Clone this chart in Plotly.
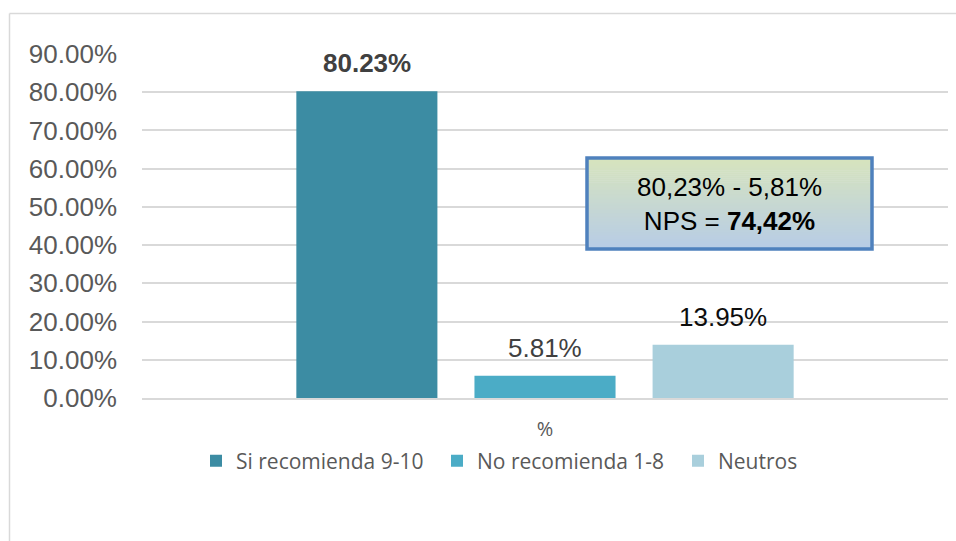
import plotly.graph_objects as go

# ---- data ----
categories = ["%"]
series_names = ["Si recomienda 9-10", "No recomienda 1-8", "Neutros"]
series_values = [0.8023, 0.0581, 0.1395]
series_colors = ["#3C8CA3", "#4BACC6", "#A9CFDC"]
label_colors = ["#404040", "#404040", "#0D0D0D"]
label_bold = [True, False, False]
nps_lines = ["80,23% - 5,81%", "NPS = ", "74,42%"]
y_ticks = [0, 0.1, 0.2, 0.3, 0.4, 0.5, 0.6, 0.7, 0.8, 0.9]

# ---- layout geometry (pixels) ----
W, H = 956, 541
ML, MR, MT, MB = 142, 8, 54, 143
PW, PH = W - ML - MR, H - MT - MB
BARGAP, BARGROUPGAP = 0.337, 0.208


def px_x(x):
    return (x - ML) / PW


def px_y(y):
    return (H - MB - y) / PH


fig = go.Figure()
for name, val, col in zip(series_names, series_values, series_colors):
    fig.add_trace(go.Bar(x=categories, y=[val], name=name, marker_color=col,
                         marker_line_width=0))

slot = PW * (1 - BARGAP) / len(series_values)
annotations = []
for i, (val, c, b) in enumerate(zip(series_values, label_colors, label_bold)):
    txt = f"{val*100:.2f}%"
    if b:
        txt = f"<b>{txt}</b>"
    annotations.append(dict(x=categories[0], y=val, xref="x", yref="y", text=txt,
                            showarrow=False, yanchor="bottom", xanchor="center",
                            xshift=(i - 1) * slot, yshift=11,
                            font=dict(family="Liberation Sans, Arial", size=26, color=c)))

shapes = []
# outer chart border (left and top)
shapes.append(dict(type="line", xref="paper", yref="paper", x0=px_x(9.5), x1=px_x(W + 5),
                   y0=px_y(13.5), y1=px_y(13.5), line=dict(color="#D9D9D9", width=1.5)))
shapes.append(dict(type="line", xref="paper", yref="paper", x0=px_x(9.5), x1=px_x(9.5),
                   y0=px_y(13.5), y1=px_y(H + 5), line=dict(color="#D9D9D9", width=1.5)))

# NPS text box with vertical gradient
bx0, bx1, by0, by1 = 587, 872, 158, 249
top_c = (215, 228, 189)
bot_c = (183, 204, 230)
n = 45
for k in range(n):
    t = (k + 0.5) / n
    col = tuple(round(top_c[j] + (bot_c[j] - top_c[j]) * t) for j in range(3))
    ya = by0 + (by1 - by0) * k / n
    yb = by0 + (by1 - by0) * (k + 1) / n + 0.6
    shapes.append(dict(type="rect", xref="paper", yref="paper", x0=px_x(bx0), x1=px_x(bx1),
                       y0=px_y(ya), y1=px_y(min(yb, by1)), line=dict(width=0),
                       fillcolor="rgb(%d,%d,%d)" % col, layer="above"))
shapes.append(dict(type="rect", xref="paper", yref="paper", x0=px_x(bx0), x1=px_x(bx1),
                   y0=px_y(by0), y1=px_y(by1), line=dict(color="#4F81BD", width=3.5),
                   fillcolor="rgba(0,0,0,0)", layer="above"))

annotations.append(dict(x=px_x((bx0 + bx1) / 2), y=px_y((by0 + by1) / 2), xref="paper", yref="paper",
                        text=f"{nps_lines[0]}<br>{nps_lines[1]}<b>{nps_lines[2]}</b>",
                        showarrow=False, xanchor="center", yanchor="middle", align="center",
                        font=dict(family="Liberation Sans, Arial", size=26, color="#000000")))

fig.update_layout(
    width=W, height=H,
    margin=dict(l=ML, r=MR, t=MT, b=MB, autoexpand=False),
    paper_bgcolor="white", plot_bgcolor="white",
    barmode="group", bargap=BARGAP, bargroupgap=BARGROUPGAP,
    showlegend=True,
    legend=dict(orientation="h", x=px_x(196), y=px_y(461), xanchor="left", yanchor="middle",
                font=dict(family="Open Sans", size=21, color="#595959"),
                entrywidth=196, entrywidthmode="pixels",
                traceorder="normal", bgcolor="rgba(0,0,0,0)", itemclick=False),
    annotations=annotations,
    shapes=shapes,
)
fig.update_yaxes(range=[0, 0.9], tickvals=y_ticks, tickformat=".2%",
                 showgrid=True, gridcolor="#D9D9D9", gridwidth=1.5,
                 zeroline=False, showline=False, ticks="", ticklabelstandoff=24,
                 tickfont=dict(family="Liberation Sans, Arial", size=26, color="#595959"))
fig.update_xaxes(showgrid=False, showline=True, linecolor="#D9D9D9", linewidth=1.5,
                 ticks="", ticklabelstandoff=12,
                 tickfont=dict(family="Open Sans", size=20, color="#595959"))

fig.write_html("out.html")
